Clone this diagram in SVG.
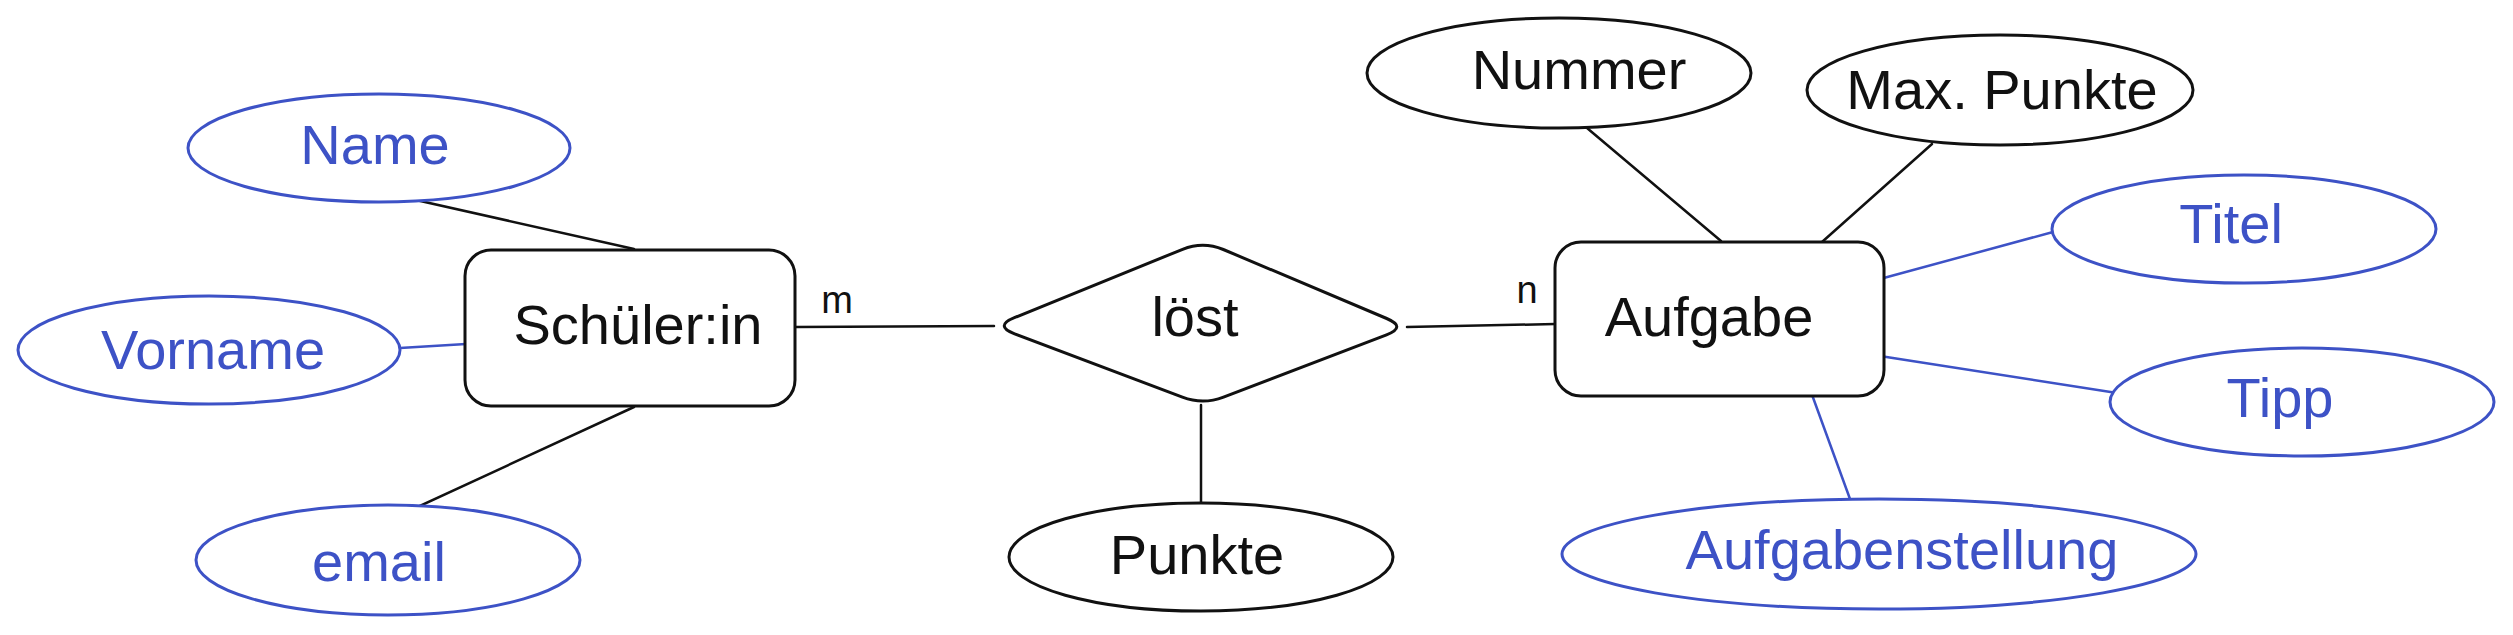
<svg xmlns="http://www.w3.org/2000/svg" width="2513" height="635" viewBox="0 0 2513 635">
<style>
  .bg { fill: #ffffff; }
  .shape { fill: #ffffff; stroke: #111111; stroke-width: 3; }
  .attr { fill: #ffffff; stroke: #111111; stroke-width: 3; }
  .attrb { fill: #ffffff; stroke: #3d52c6; stroke-width: 3; }
  .lbl { font-family: "Liberation Sans", "DejaVu Sans", sans-serif; font-size: 56px; fill: #111111; text-anchor: middle; }
  .lblb { font-family: "Liberation Sans", "DejaVu Sans", sans-serif; font-size: 56px; fill: #3d52c6; text-anchor: middle; }
  .card { font-family: "Liberation Sans", "DejaVu Sans", sans-serif; font-size: 38px; fill: #111111; text-anchor: middle; }
  .edge { stroke: #111111; stroke-width: 2.5; fill: none; stroke-linecap: round; }
  .edgeb { stroke: #3d52c6; stroke-width: 2.5; fill: none; stroke-linecap: round; }
</style>
<rect class="bg" x="0" y="0" width="2513" height="635"/>

<g id="connectors">
  <line class="edge" x1="407" y1="198" x2="634" y2="249"/>
  <line class="edgeb" x1="400" y1="348" x2="466" y2="344"/>
  <line class="edge" x1="634" y1="407" x2="409" y2="511"/>
  <line class="edge" x1="796" y1="327" x2="994" y2="326"/>
  <line class="edge" x1="1407" y1="327" x2="1555" y2="324"/>
  <line class="edge" x1="1201" y1="405" x2="1201" y2="504"/>
  <line class="edge" x1="1587" y1="128" x2="1721" y2="241"/>
  <line class="edge" x1="1932" y1="144" x2="1822" y2="242"/>
  <line class="edgeb" x1="1880" y1="279" x2="2053" y2="232"/>
  <line class="edgeb" x1="1880" y1="356" x2="2117" y2="393"/>
  <line class="edgeb" x1="1811" y1="392" x2="1850" y2="499"/>
  <text class="card" x="837" y="313">m</text>
  <text class="card" x="1527" y="303">n</text>
</g>

<g id="schuelerin">
  <rect class="shape" x="465" y="250" width="330" height="156" rx="26" ry="26"/>
  <text class="lbl" x="638" y="344">Schüler:in</text>
</g>

<g id="name">
  <ellipse class="attrb" cx="379" cy="148" rx="191" ry="54"/>
  <text class="lblb" x="375" y="164">Name</text>
</g>

<g id="vorname">
  <ellipse class="attrb" cx="209" cy="350" rx="191" ry="54"/>
  <text class="lblb" x="213" y="369">Vorname</text>
</g>

<g id="email">
  <ellipse class="attrb" cx="388" cy="560" rx="192" ry="55"/>
  <text class="lblb" x="379" y="581">email</text>
</g>

<g id="loest">
  <path class="shape" d="M1014.4,317.7 L1182.6,249.3 Q1203,241 1223.3,249.5 L1386.7,318.5 Q1407,327 1386.5,334.9 L1223.5,397.1 Q1203,405 1182.4,397.2 L1014.6,333.8 Q994,326 1014.4,317.7 Z"/>
  <text class="lbl" x="1195" y="336">löst</text>
</g>

<g id="punkte">
  <ellipse class="attr" cx="1201" cy="557" rx="192" ry="54"/>
  <text class="lbl" x="1197" y="574">Punkte</text>
</g>

<g id="aufgabe">
  <rect class="shape" x="1555" y="242" width="329" height="154" rx="26" ry="26"/>
  <text class="lbl" x="1709" y="336">Aufgabe</text>
</g>

<g id="nummer">
  <ellipse class="attr" cx="1559" cy="73" rx="192" ry="55"/>
  <text class="lbl" x="1579" y="89">Nummer</text>
</g>

<g id="maxpunkte">
  <ellipse class="attr" cx="2000" cy="90" rx="193" ry="55"/>
  <text class="lbl" x="2002" y="109">Max. Punkte</text>
</g>

<g id="titel">
  <ellipse class="attrb" cx="2244" cy="229" rx="192" ry="54"/>
  <text class="lblb" x="2231" y="243">Titel</text>
</g>

<g id="tipp">
  <ellipse class="attrb" cx="2302" cy="402" rx="192" ry="54"/>
  <text class="lblb" x="2280" y="417">Tipp</text>
</g>

<g id="aufgabenstellung">
  <ellipse class="attrb" cx="1879" cy="554" rx="317" ry="55"/>
  <text class="lblb" x="1902" y="569">Aufgabenstellung</text>
</g>
</svg>
